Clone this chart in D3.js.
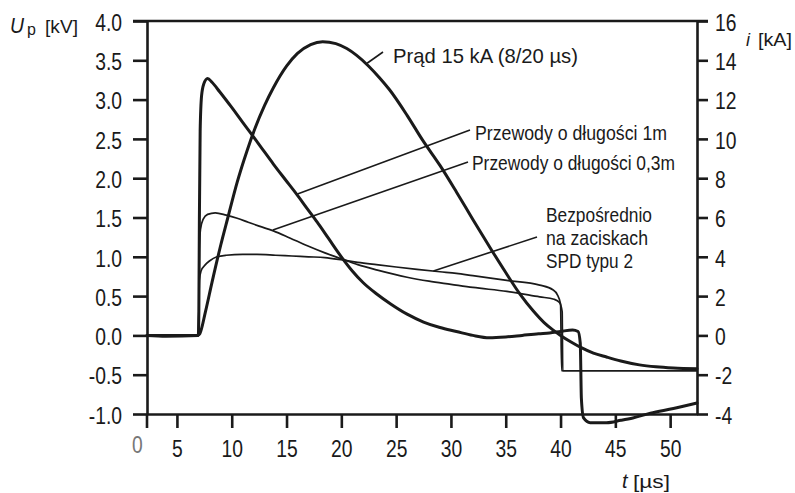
<!DOCTYPE html>
<html><head><meta charset="utf-8">
<script src="https://cdn.jsdelivr.net/npm/d3@7"></script>
<style>
body{margin:0;background:#fff}
svg{display:block}
text{font-family:"Liberation Sans",Arial,Helvetica,sans-serif;fill:#1a1a1a}
</style>
</head><body>
<svg id="chart" width="795" height="493"></svg>
<script>
// ---------- data ----------
const tCurrent = [2.27,4.0,6.9,7.1,7.6,8.2,9.0,9.65,10.5,11.4,12.1,13.0,13.8,15.0,16.0,17.2,18.3,19.5,20.5,21.4,22.5,23.5,24.4,26.0,27.4,29.0,30.5,32.0,33.7,35.0,36.3,37.5,38.5,39.3,40.0,41.0,41.8,43.0,44.2,45.5,47.2,48.7,50.3,52.45];
const iCurrent = [0,0,0,0.1,1.2,2.7,4.6,6.0,7.8,9.4,10.5,11.7,12.6,13.7,14.35,14.8,14.95,14.85,14.6,14.25,13.7,13.1,12.5,11.2,9.95,8.65,7.3,5.9,4.35,3.2,2.1,1.25,0.65,0.28,0.0,-0.35,-0.6,-0.9,-1.1,-1.3,-1.5,-1.6,-1.66,-1.7];

const t1m = [2.27,4.0,6.95,7.0,7.05,7.12,7.25,7.45,7.8,8.2,8.9,10.0,11.0,11.7,12.8,13.8,14.9,15.9,16.9,17.8,18.8,20.0,21.0,22.0,23.2,24.5,26.0,27.5,29.0,30.5,32.0,33.5,35.0,36.5,38.0,39.0,40.0,41.1,41.6,41.8,41.9,42.1,42.7,44.2,45.5,46.6,48.2,50.3,52.45];
const u1m = [0,-0.01,0,0.3,1.5,2.6,3.05,3.2,3.27,3.22,3.10,2.90,2.71,2.58,2.37,2.18,1.98,1.80,1.61,1.44,1.24,1.0,0.82,0.67,0.53,0.40,0.27,0.17,0.10,0.05,0.0,-0.03,-0.02,0.0,0.02,0.03,0.05,0.07,0.05,-0.1,-0.8,-1.05,-1.11,-1.11,-1.08,-1.05,-0.99,-0.93,-0.86];

const t03m = [2.27,6.95,7.0,7.05,7.15,7.4,7.8,8.5,9.5,10.5,11.5,12.5,13.8,15.3,16.9,18.5,20.1,21.5,23.3,26.0,28.0,30.0,32.0,35.1,38.1,39.4,39.9,40.15,40.2,52.45];
const u03m = [0,0,0.3,1.1,1.35,1.48,1.54,1.56,1.53,1.49,1.44,1.39,1.33,1.24,1.14,1.05,0.97,0.90,0.83,0.74,0.69,0.65,0.61,0.56,0.49,0.46,0.42,0.3,-0.45,-0.45];

const tDirect = [2.27,6.95,7.0,7.05,7.2,7.6,8.0,8.65,9.5,11.0,12.3,14.0,15.5,17.0,18.5,20.1,21.5,23.2,25.0,26.9,29.0,30.5,32.0,35.1,38.1,39.3,39.7,40.0,40.1,52.45];
const uDirect = [0,0,0.3,0.7,0.82,0.90,0.95,1.0,1.02,1.03,1.03,1.02,1.01,1.0,0.99,0.96,0.93,0.90,0.87,0.84,0.81,0.79,0.76,0.70,0.64,0.58,0.52,0.4,-0.45,-0.45];

const tTicks = [5,10,15,20,25,30,35,40,45,50];
const uTicks = [-1,-0.5,0,0.5,1,1.5,2,2.5,3,3.5,4];
const iTicks = [-4,-2,0,2,4,6,8,10,12,14,16];
const tDomain = [2.27,52.45];
const uDomain = [-1,4];
const iDomain = [-4,16];

// annotation texts
const labelCurrent = "Prąd 15 kA (8/20 µs)";
const label1m = "Przewody o długości 1m";
const label03m = "Przewody o długości 0,3m";
const labelDirect = ["Bezpośrednio","na zaciskach","SPD typu 2"];

// ---------- drawing ----------
const svg = d3.select("#chart");
const X0 = 147, X1 = 697, Y0 = 414, Y1 = 21;
const x = d3.scaleLinear().domain(tDomain).range([X0, X1]);
const yU = d3.scaleLinear().domain(uDomain).range([Y0, Y1]);
const yI = d3.scaleLinear().domain(iDomain).range([Y0, Y1]);
const SX = 0.84;
const ink = "#1a1a1a";

function styleAxis(g){
  g.select(".domain").attr("stroke", ink).attr("stroke-width", 2.6);
  g.selectAll(".tick line").attr("stroke", ink).attr("stroke-width", 2.6);
  g.selectAll(".tick text").attr("font-size", 23).attr("fill", ink)
    .attr("font-family", '"Liberation Sans",Arial,sans-serif');
}

// left axis
const gL = svg.append("g").attr("transform", `translate(${X0},0)`)
  .call(d3.axisLeft(yU).tickValues(uTicks).tickSize(14).tickSizeOuter(0)
        .tickFormat(d => d.toFixed(1)));
styleAxis(gL);
gL.selectAll(".tick text").attr("x", -25 / SX).attr("dy", "0.4em")
  .attr("transform", `scale(${SX},1)`);

// right axis
const gR = svg.append("g").attr("transform", `translate(${X1},0)`)
  .call(d3.axisRight(yI).tickValues(iTicks).tickSize(11).tickSizeOuter(0)
        .tickFormat(d => String(d)));
styleAxis(gR);
gR.selectAll(".tick text").attr("x", 18 / SX).attr("dy", "0.4em")
  .attr("transform", `scale(${SX},1)`);

// bottom axis
const gB = svg.append("g").attr("transform", `translate(0,${Y0})`)
  .call(d3.axisBottom(x).tickValues(tTicks).tickSize(14).tickSizeOuter(0).tickPadding(13)
        .tickFormat(d => String(d)));
styleAxis(gB);
gB.selectAll(".tick text").attr("transform", `scale(${SX},1)`);

// frame: top line and left-axis extension below x axis
svg.append("line").attr("x1", X0 - 14).attr("x2", X1 + 11).attr("y1", yU(4)).attr("y2", yU(4))
  .attr("stroke", ink).attr("stroke-width", 2.6);
svg.append("line").attr("x1", X0).attr("x2", X0).attr("y1", Y0).attr("y2", Y0 + 14)
  .attr("stroke", ink).attr("stroke-width", 2.6);

// origin "0" label
svg.append("text").attr("x", 137.5 / 0.84).attr("y", 453).attr("transform", `scale(0.84,1)`)
  .attr("text-anchor", "middle").attr("font-size", 23).style("fill", "#777").text("0");

// curves
const lineU = d3.line().x(d => x(d[0])).y(d => yU(d[1])).curve(d3.curveMonotoneX);
const lineI = d3.line().x(d => x(d[0])).y(d => yI(d[1])).curve(d3.curveMonotoneX);
const zip = (a, b) => a.map((v, k) => [v, b[k]]);

const plot = svg.append("g").attr("fill", "none").attr("stroke-linejoin", "round").attr("stroke-linecap", "round");
plot.append("path").attr("d", lineU(zip(tDirect, uDirect))).attr("stroke", ink).attr("stroke-width", 1.7);
plot.append("path").attr("d", lineU(zip(t03m, u03m))).attr("stroke", ink).attr("stroke-width", 1.7);
plot.append("path").attr("d", lineU(zip(t1m, u1m))).attr("stroke", ink).attr("stroke-width", 3);
plot.append("path").attr("d", lineI(zip(tCurrent, iCurrent))).attr("stroke", ink).attr("stroke-width", 3);

// annotations: leader lines from label to a point on the curve
function leader(x1, y1, x2, y2){
  svg.append("line").attr("x1", x1).attr("y1", y1).attr("x2", x2).attr("y2", y2)
    .attr("stroke", ink).attr("stroke-width", 1.6);
}
function label(txt, px, py, w, fs){
  svg.append("text").attr("x", px).attr("y", py).attr("font-size", fs || 21)
    .attr("textLength", w).attr("lengthAdjust", "spacingAndGlyphs").text(txt);
}
leader(383, 52, x(22.35), yI(13.85));
label(labelCurrent, 393, 63, 185, 21);
leader(470, 130, x(16.0), yU(1.80));
label(label1m, 475, 140, 192, 21);
leader(468, 162, x(13.75), yU(1.34));
label(label03m, 472, 170, 203, 21);
leader(537, 237, x(28.4), yU(0.82));
label(labelDirect[0], 546, 222, 106, 21);
label(labelDirect[1], 546, 245, 102, 21);
label(labelDirect[2], 546, 268, 87, 21);

// axis titles
svg.append("text").attr("x", 10).attr("y", 33).attr("font-size", 22).attr("font-style", "italic")
  .attr("textLength", 14).attr("lengthAdjust", "spacingAndGlyphs").text("U");
svg.append("text").attr("x", 27).attr("y", 35).attr("font-size", 16).text("p");
svg.append("text").attr("x", 45).attr("y", 33).attr("font-size", 19)
  .attr("textLength", 33).attr("lengthAdjust", "spacingAndGlyphs").text("[kV]");
svg.append("text").attr("x", 746).attr("y", 46).attr("font-size", 18).attr("font-style", "italic").text("i");
svg.append("text").attr("x", 758).attr("y", 46).attr("font-size", 18)
  .attr("textLength", 34).attr("lengthAdjust", "spacingAndGlyphs").text("[kA]");
svg.append("text").attr("x", 622).attr("y", 488).attr("font-size", 20).attr("font-style", "italic").text("t");
svg.append("text").attr("x", 633).attr("y", 488).attr("font-size", 19)
  .attr("textLength", 37).attr("lengthAdjust", "spacingAndGlyphs").text("[µs]");
</script>
</body></html>
